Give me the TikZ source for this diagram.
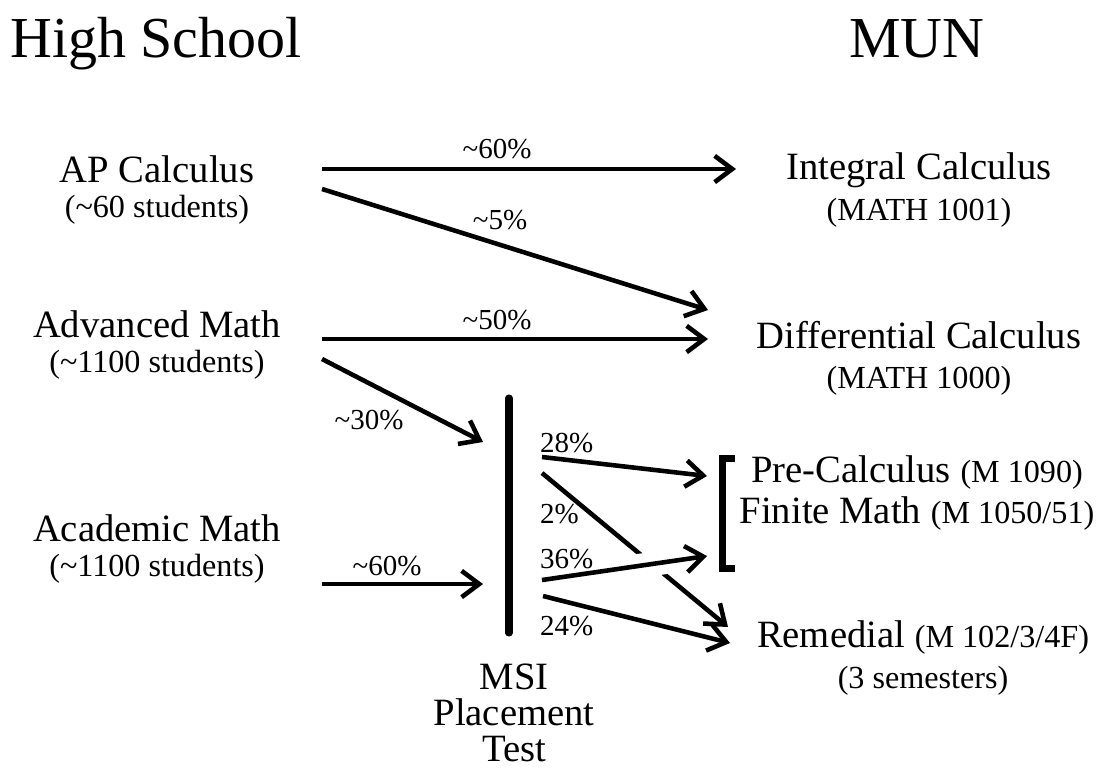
\documentclass[tikz,border=0pt]{standalone}
\usepackage{fontspec}
\setmainfont{Liberation Serif}
\usetikzlibrary{arrows.meta}
\newcommand{\minor}[1]{{\fontsize{18.3}{20}\selectfont #1}}
\tikzset{
every node/.style={inner sep=0pt, outer sep=0pt},
head/.style={font=\fontsize{33}{40}\selectfont, anchor=base},
srcnode/.style={align=center, font=\fontsize{22}{19.5}\selectfont},
dstnode/.style={align=center, font=\fontsize{22}{22.8}\selectfont},
pct/.style={font=\fontsize{16.5}{20}\selectfont, anchor=base},
flow/.style={line width=2.6pt, -{Straight Barb[length=10pt,width=15pt]}},
}
\begin{document}
\begin{tikzpicture}[x=0.02cm,y=-0.02cm]
\useasboundingbox (0,0) rectangle (1097,771);
% column titles
\node[head] (hs) at (156,57) {High School};
\node[head] (mun) at (917,57) {MUN};
% high school courses
\node[srcnode] (ap) at (157,190) {AP Calculus\\\minor{(\textasciitilde60 students)}};
\node[srcnode] (adv) at (157,345) {Advanced Math\\\minor{(\textasciitilde1100 students)}};
\node[srcnode] (acad) at (157,549) {Academic Math\\\minor{(\textasciitilde1100 students)}};
\node[srcnode, font=\fontsize{22}{20.5}\selectfont] (msi) at (514,713) {MSI\\Placement\\Test};
% university courses
\node[dstnode] (integ) at (919,190) {Integral Calculus\\\minor{(MATH 1001)}};
\node[dstnode] (diff) at (919,358) {Differential Calculus\\\minor{(MATH 1000)}};
\node[dstnode] (precalc) at (917,493) {Pre-Calculus \minor{(M 1090)}\\Finite Math \minor{(M 1050/51)}};
\node[dstnode] (remed) at (923,658) {Remedial \minor{(M 102/3/4F)}\\\minor{(3 semesters)}};
% connector ends
\coordinate (ap-o1) at (322,169);
\coordinate (ap-o2) at (322,189);
\coordinate (adv-o1) at (322,339);
\coordinate (adv-o2) at (322,359);
\coordinate (acad-o) at (322,584);
\coordinate (msi-i1) at (483,442);
\coordinate (msi-i2) at (483,584);
\coordinate (msi-top) at (509,398);
\coordinate (msi-bot) at (509,633);
\coordinate (msi-o1) at (542,457);
\coordinate (msi-o2) at (542,473);
\coordinate (msi-o3) at (542,580);
\coordinate (msi-o4) at (543,596);
\coordinate (integ-i) at (736,169);
\coordinate (diff-i1) at (708,310);
\coordinate (diff-i2) at (708,339);
\coordinate (pre-i1) at (707,476);
\coordinate (pre-i2) at (707,556);
\coordinate (rem-i1) at (728,627);
\coordinate (rem-i2) at (730,643);
% placement test bar and bracket
\draw[line width=4pt, line cap=round] (msi-top) -- (msi-bot);
\draw[line width=4pt] (735,458.5) -- (722.5,458.5) -- (722.5,568.5) -- (735,568.5);
% flows
\draw[flow] (ap-o1) -- (integ-i);
\draw[flow] (ap-o2) -- (diff-i1);
\draw[flow] (adv-o1) -- (diff-i2);
\draw[flow] (adv-o2) -- (msi-i1);
\draw[flow] (acad-o) -- (msi-i2);
\draw[flow] (msi-o1) -- (pre-i1);
\draw[flow] (msi-o2) -- (rem-i1);
\draw[flow, preaction={draw=white, line width=13.7pt, -}] (msi-o3) -- (pre-i2);
\draw[flow] (msi-o4) -- (rem-i2);
% percentages
\node[pct] (p1) at (497,158) {\textasciitilde60\%};
\node[pct] (p2) at (500,229) {\textasciitilde5\%};
\node[pct] (p3) at (497,329) {\textasciitilde50\%};
\node[pct] (p4) at (369,429) {\textasciitilde30\%};
\node[pct] (p5) at (387,575) {\textasciitilde60\%};
\node[pct, anchor=base west] (p6) at (540,452) {28\%};
\node[pct, anchor=base west] (p7) at (540,523) {2\%};
\node[pct, anchor=base west] (p8) at (540,568) {36\%};
\node[pct, anchor=base west] (p9) at (540,635) {24\%};
\end{tikzpicture}
\end{document}
